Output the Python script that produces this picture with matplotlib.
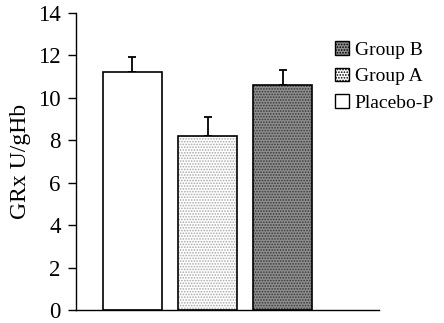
import matplotlib.pyplot as plt
import numpy as np

groups = ["Placebo-P", "Group A", "Group B"]
means = [11.2, 8.2, 10.6]
errors = [0.7, 0.9, 0.7]
yticks = [0, 2, 4, 6, 8, 10, 12, 14]

plt.rcParams["font.family"] = ["Liberation Serif", "DejaVu Serif"]
plt.rcParams["hatch.linewidth"] = 0.8

fig = plt.figure(figsize=(4.44, 3.23), dpi=100)
ax = fig.add_axes([0.171, 0.04, 0.683, 0.92])

x = np.arange(len(groups))
faces = ["white", "white", "#8e8e8e"]
hatches = ["", "......", "......"]
hcolors = ["black", "#a8a8a8", "#383838"]
bars = []
for i in range(len(groups)):
    b = ax.bar(x[i], means[i], width=0.787, color=faces[i], edgecolor=hcolors[i],
               hatch=hatches[i], linewidth=0, label=groups[i], zorder=2)
    # black outline drawn separately so the hatch can be grey
    ax.bar(x[i], means[i], width=0.787, color="none", edgecolor="black",
           linewidth=1.2, zorder=3)
    bars.append(b)

ax.errorbar(x, means, yerr=[np.zeros(len(errors)), errors], fmt="none",
            ecolor="black", elinewidth=1.3, capsize=3, capthick=1.3, zorder=1)

ax.set_xlim(-0.753, 3.287)
ax.set_ylim(0, 14)
ax.set_yticks(yticks)
ax.set_xticks([])
ax.tick_params(axis="y", direction="out", length=6, width=1, labelsize=16.5, pad=5)
ax.spines["top"].set_visible(False)
ax.spines["right"].set_visible(False)
ax.spines["left"].set_linewidth(1)
ax.spines["bottom"].set_linewidth(1)
ax.set_ylabel("GRx U/gHb", fontsize=17, labelpad=5)

handles = [bars[2], bars[1], bars[0]]
labels = [groups[2], groups[1], groups[0]]
leg = ax.legend(handles, labels, loc="upper left", bbox_to_anchor=(0.83, 0.93),
                frameon=False, fontsize=14, handlelength=0.7, handleheight=0.7,
                handletextpad=0.3, labelspacing=0.45, borderaxespad=0)
for h in leg.legend_handles:
    h.set_linewidth(1)
    h.set_edgecolor("black")

fig.savefig("out.png", dpi=100)
